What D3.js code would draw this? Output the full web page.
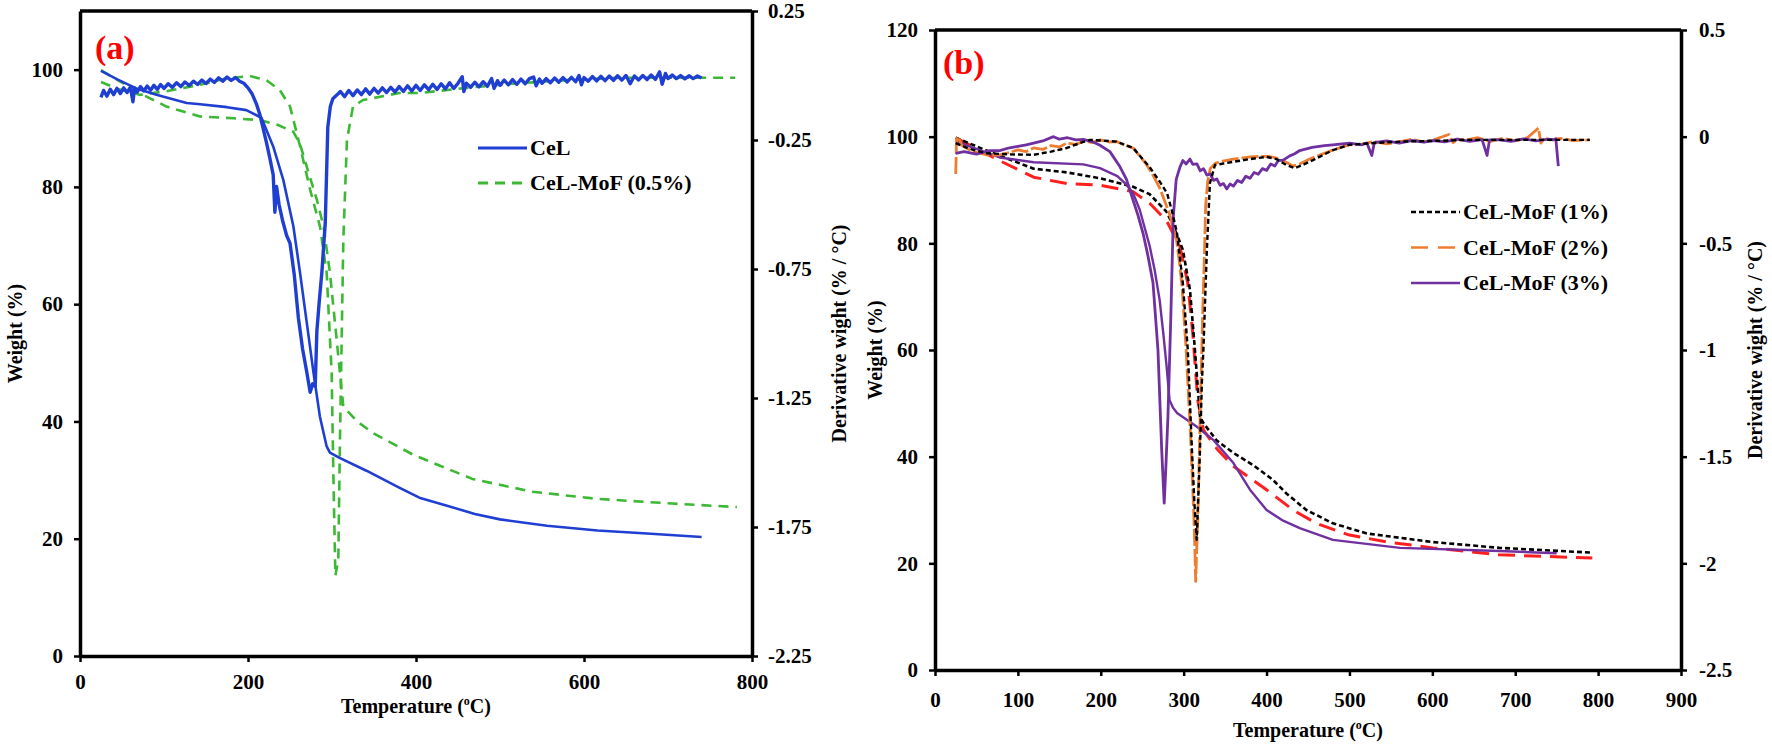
<!DOCTYPE html>
<html><head><meta charset="utf-8">
<script src="https://cdn.jsdelivr.net/npm/d3@7"></script>
<style>
body{margin:0;background:#fff}
text{font-family:"Liberation Serif","Times New Roman",serif;font-weight:bold;fill:#000}
</style>
</head><body>
<svg id="c" width="1772" height="745"></svg>
<script>
// ---------------- DATA ----------------
// Panel (a): TG curves [temperature °C, weight %]
const celTG = [[25,99.8],[45,98.3],[67,96.8],[91,95.7],[127,94.3],[143,94.1],[175,93.6],[198,93.1],[216,91.8],[230,86.9],[242,81.2],[254,73.3],[262,65.3],[270,56.8],[278,48.3],[285.5,40.9],[293.5,35.8],[297.5,34.7],[309,33.8],[341,31.6],[380,28.7],[404,27.0],[438,25.6],[470,24.2],[500,23.3],[556,22.2],[616,21.4],[675,20.9],[740,20.3]];
const mof05TG = [[25,99.9],[71,96.0],[103,93.7],[143,92.0],[183,91.7],[214,91.4],[235,90.6],[254,89.4],[262,87.3],[270,83.4],[282,77.8],[290,73.2],[297.6,65.3],[305.6,53.9],[309.5,48.2],[313.5,42.5],[330,40.0],[349,38.0],[397,34.3],[467,30.2],[539,28.0],[616,26.8],[705,26.0],[782,25.4]];
// Panel (a): DTG curves [temperature °C, derivative %/°C]
const celDTG = [[25,-0.085],[28,-0.058],[32,-0.080],[36,-0.053],[40,-0.074],[44,-0.050],[48,-0.070],[52,-0.048],[56,-0.066],[60,-0.045],[63,-0.102],[65,-0.048],[68,-0.064],[72,-0.043],[76,-0.060],[80,-0.041],[84,-0.057],[88,-0.038],[92,-0.054],[96,-0.035],[100,-0.050],[105,-0.032],[110,-0.046],[115,-0.028],[120,-0.043],[125,-0.025],[130,-0.039],[135,-0.022],[140,-0.035],[145,-0.018],[150,-0.031],[155,-0.014],[160,-0.027],[165,-0.009],[170,-0.022],[175,-0.006],[180,-0.019],[185,-0.008],[190,-0.022],[195,-0.030],[200,-0.048],[205,-0.072],[210,-0.110],[214,-0.150],[218,-0.205],[222,-0.260],[226,-0.320],[230,-0.385],[232,-0.530],[234,-0.430],[237,-0.500],[241,-0.560],[246,-0.620],[250,-0.650],[255,-0.770],[260,-0.940],[265,-1.060],[270,-1.150],[274,-1.228],[277,-1.195],[280,-1.205],[282,-0.990],[285,-0.870],[288,-0.760],[292,-0.570],[295,-0.200],[298,-0.120],[301,-0.090],[305,-0.078],[310,-0.062],[315,-0.082],[320,-0.058],[325,-0.078],[330,-0.056],[335,-0.074],[340,-0.052],[345,-0.072],[350,-0.050],[355,-0.068],[360,-0.048],[365,-0.066],[370,-0.046],[375,-0.064],[380,-0.043],[385,-0.062],[390,-0.040],[395,-0.060],[400,-0.038],[405,-0.058],[410,-0.036],[415,-0.055],[420,-0.034],[425,-0.054],[430,-0.032],[435,-0.052],[440,-0.028],[445,-0.050],[450,-0.030],[455,-0.005],[457,-0.062],[460,-0.030],[465,-0.046],[470,-0.026],[475,-0.044],[480,-0.024],[485,-0.042],[490,-0.012],[493,-0.050],[497,-0.020],[500,-0.038],[505,-0.018],[510,-0.036],[515,-0.016],[520,-0.034],[525,-0.014],[530,-0.032],[535,-0.012],[540,-0.006],[543,-0.040],[547,-0.014],[550,-0.030],[555,-0.012],[560,-0.028],[565,-0.010],[570,-0.026],[575,-0.008],[580,-0.025],[585,-0.007],[590,-0.024],[594,0.000],[597,-0.036],[600,-0.008],[605,-0.022],[610,-0.004],[615,-0.021],[620,-0.003],[625,-0.020],[630,-0.002],[635,-0.019],[640,-0.001],[645,-0.018],[650,0.000],[655,-0.032],[660,-0.002],[665,-0.017],[670,0.000],[675,-0.016],[680,0.002],[685,-0.015],[690,0.014],[693,-0.034],[697,0.008],[700,-0.012],[705,0.002],[710,-0.012],[715,0.000],[720,-0.013],[725,-0.001],[730,-0.012],[735,-0.002],[740,-0.010]];
const mof05DTG = [[25,-0.025],[45,-0.052],[71,-0.075],[103,-0.061],[143,-0.036],[175,-0.011],[202,-0.002],[222,-0.018],[238,-0.057],[250,-0.120],[262,-0.275],[274,-0.443],[285.7,-0.586],[293.7,-0.766],[299.6,-1.155],[301.6,-1.541],[304,-1.939],[307.5,-1.875],[309.5,-1.409],[311.5,-1.023],[313.5,-0.636],[317.8,-0.250],[325,-0.120],[337,-0.095],[380,-0.068],[404,-0.068],[460,-0.048],[522,-0.030],[580,-0.018],[641,-0.009],[700,-0.008],[780,-0.009]];

// Panel (b): TG curves [temperature °C, weight %]
const mof1TG = [[25,99.8],[62,97.4],[119,94.0],[159,93.3],[199,92.2],[239,90.6],[259,89.2],[279.5,85.9],[291,82.0],[299,78.8],[307.6,71.3],[313.6,60.0],[319.7,47.5],[323.8,46.3],[340,43.0],[360,40.7],[385,38.3],[408,35.6],[424,33.1],[448,30.0],[480,27.5],[521,25.6],[600,24.0],[681,22.9],[793,22.0]];
const mof2TG = [[25,99.8],[78,95.5],[119,92.4],[159,91.2],[199,90.9],[239,89.7],[259,87.5],[279.5,84.2],[295.5,79.4],[305,72.5],[311,63.1],[317,50.6],[323.8,45.0],[340,41.5],[360,38.2],[380,36.0],[400,33.8],[432,30.0],[460,27.5],[500,25.3],[546,24.0],[601,22.9],[681,21.6],[793,21.0]];
const mof3TG = [[25,99.1],[78,96.1],[119,95.2],[179,94.8],[199,94.1],[220,92.6],[231,91.0],[239,89.4],[247,86.3],[259,79.5],[265,75.0],[271,69.4],[275.5,63.0],[279.5,56.8],[283,50.6],[287,49.2],[292,48.2],[316,45.6],[336,43.1],[360,38.8],[380,33.8],[400,30.0],[420,28.0],[440,26.6],[480,24.4],[561,22.9],[681,22.3],[750,21.9]];
// Panel (b): DTG curves [temperature °C, derivative %/°C]
const mof1DTG = [[25,-0.030],[40,-0.055],[62,-0.078],[90,-0.083],[119,-0.085],[140,-0.070],[159,-0.053],[175,-0.030],[187,-0.015],[200,-0.018],[219,-0.023],[239,-0.053],[259,-0.143],[271,-0.210],[280,-0.265],[286,-0.350],[292,-0.453],[299,-0.685],[305,-1.000],[310,-1.468],[313,-1.720],[315.7,-1.890],[318,-1.650],[319.7,-1.468],[322,-1.150],[323.8,-1.000],[328,-0.530],[331.7,-0.217],[337.8,-0.133],[360,-0.118],[380,-0.105],[400,-0.095],[412,-0.105],[424,-0.133],[434,-0.148],[445,-0.130],[456,-0.110],[480,-0.063],[500,-0.038],[530,-0.030],[561,-0.023],[600,-0.020],[641,-0.015],[700,-0.015],[742,-0.015],[790,-0.015]];
const mof2DTG = [[25,-0.175],[26,-0.010],[28,0.000],[32,-0.040],[38,-0.053],[45,-0.070],[55,-0.078],[65,-0.088],[78,-0.085],[90,-0.074],[100,-0.062],[110,-0.070],[119,-0.053],[130,-0.060],[140,-0.042],[150,-0.048],[159,-0.030],[170,-0.036],[180,-0.020],[190,-0.028],[199,-0.015],[210,-0.025],[219,-0.023],[229,-0.040],[239,-0.053],[247,-0.090],[255,-0.130],[263,-0.180],[271,-0.240],[277,-0.300],[283,-0.363],[287,-0.420],[291.5,-0.488],[295,-0.590],[298,-0.700],[300.5,-0.850],[303,-1.000],[305.5,-1.190],[308,-1.375],[310,-1.560],[312,-1.750],[313.5,-1.930],[314.5,-2.085],[315.5,-1.960],[317,-1.800],[318.5,-1.550],[320,-1.300],[321.5,-1.060],[323,-0.825],[325,-0.560],[326.5,-0.325],[329,-0.210],[332,-0.150],[338,-0.125],[344,-0.118],[360,-0.105],[380,-0.095],[395,-0.092],[404,-0.093],[412,-0.100],[420,-0.113],[426,-0.125],[432,-0.138],[440,-0.128],[452,-0.105],[465,-0.085],[480,-0.063],[490,-0.050],[500,-0.038],[515,-0.035],[530,-0.022],[545,-0.034],[561,-0.023],[575,-0.012],[590,-0.025],[605,-0.010],[620,0.010],[625,-0.028],[630,-0.012],[641,-0.015],[655,-0.005],[670,-0.022],[685,-0.008],[700,-0.020],[715,-0.004],[728,0.040],[731,-0.030],[735,-0.006],[742,-0.015],[755,-0.008],[770,-0.018],[790,-0.015]];
const mof3DTG = [[25,-0.078],[35,-0.070],[50,-0.082],[65,-0.066],[78,-0.065],[90,-0.052],[100,-0.045],[110,-0.038],[119,-0.030],[130,-0.020],[143,0.000],[150,-0.012],[160,-0.005],[170,-0.015],[179,-0.013],[190,-0.024],[199,-0.040],[211,-0.070],[223,-0.140],[231,-0.200],[239,-0.298],[245,-0.370],[251,-0.453],[257,-0.560],[263,-0.685],[269,-1.000],[273.5,-1.468],[276.5,-1.718],[278.5,-1.550],[281,-1.315],[284.5,-0.845],[287.5,-0.375],[291,-0.200],[295.5,-0.143],[299,-0.112],[303,-0.128],[307.6,-0.105],[311,-0.130],[316,-0.128],[320,-0.160],[324,-0.150],[328,-0.180],[332,-0.175],[336,-0.205],[340,-0.198],[344,-0.228],[348,-0.220],[352,-0.245],[356,-0.222],[360,-0.232],[365,-0.205],[370,-0.215],[375,-0.185],[380,-0.195],[385,-0.168],[390,-0.176],[395,-0.150],[400,-0.158],[405,-0.128],[410,-0.138],[414,-0.112],[420,-0.110],[428,-0.090],[434,-0.080],[440,-0.065],[455,-0.050],[470,-0.042],[480,-0.038],[500,-0.030],[515,-0.038],[521,-0.030],[527,-0.088],[530,-0.028],[545,-0.020],[560,-0.030],[575,-0.018],[590,-0.026],[601,-0.018],[615,-0.024],[630,-0.012],[645,-0.022],[660,-0.014],[666,-0.088],[669,-0.015],[681,-0.015],[695,-0.022],[710,-0.010],[725,-0.020],[740,-0.012],[746,-0.015],[749,-0.010],[752,-0.138]];

// Axis ticks and labels
const xTicksA = [0,200,400,600,800];
const yTicksA = [0,20,40,60,80,100];
const rTicksA = [0.25,-0.25,-0.75,-1.25,-1.75,-2.25];
const xTicksB = [0,100,200,300,400,500,600,700,800,900];
const yTicksB = [0,20,40,60,80,100,120];
const rTicksB = [0.5,0,-0.5,-1,-1.5,-2,-2.5];
const legendA = ["CeL","CeL-MoF (0.5%)"];
const legendB = ["CeL-MoF (1%)","CeL-MoF (2%)","CeL-MoF (3%)"];

// ---------------- DRAW ----------------
const svg = d3.select("#c");
const C = {blue:"#1f3fd3", green:"#3db834", black:"#000", red:"#ff1f1f", orange:"#ed7d31", purple:"#7030a0"};

function panel(cfg){
  const x = d3.scaleLinear().domain(cfg.xDomain).range([cfg.left,cfg.right]);
  const yL = d3.scaleLinear().domain(cfg.yLDomain).range([cfg.bottom,cfg.top]);
  const yR = d3.scaleLinear().domain(cfg.yRDomain).range([cfg.bottom,cfg.top]);
  const g = svg.append("g");
  const id = "clip"+cfg.name;
  svg.append("defs").append("clipPath").attr("id",id).append("rect")
    .attr("x",cfg.left).attr("y",cfg.top).attr("width",cfg.right-cfg.left).attr("height",cfg.bottom-cfg.top);
  const plot = g.append("g").attr("clip-path",`url(#${id})`);
  cfg.series.forEach(s=>{
    const y = s.axis==="R"?yR:yL;
    plot.append("path").datum(s.data)
      .attr("fill","none").attr("stroke",s.color).attr("stroke-width",s.width)
      .attr("stroke-dasharray",s.dash||null).attr("stroke-linejoin","round")
      .attr("d",d3.line().x(d=>x(d[0])).y(d=>y(d[1])));
  });
  const style = sel=>{
    sel.select(".domain").attr("stroke","#000").attr("stroke-width",3.5);
    sel.selectAll(".tick line").attr("stroke","#000").attr("stroke-width",2.5);
    sel.selectAll(".tick text").attr("font-size",21).attr("font-family","Liberation Serif").attr("font-weight","bold").attr("fill","#000");
  };
  g.append("line").attr("x1",cfg.left).attr("x2",cfg.right).attr("y1",cfg.top).attr("y2",cfg.top)
    .attr("stroke","#000").attr("stroke-width",3.5);
  g.append("g").attr("transform",`translate(0,${cfg.bottom})`)
    .call(d3.axisBottom(x).tickValues(cfg.xTicks).tickSize(6).tickSizeOuter(0).tickPadding(cfg.xPad).tickFormat(d3.format("d"))).call(style);
  g.append("g").attr("transform",`translate(${cfg.left},0)`)
    .call(d3.axisLeft(yL).tickValues(cfg.yTicks).tickSize(6).tickSizeOuter(0).tickPadding(11).tickFormat(d3.format("d"))).call(style);
  g.append("g").attr("transform",`translate(${cfg.right},0)`)
    .call(d3.axisRight(yR).tickValues(cfg.rTicks).tickSize(6).tickSizeOuter(0).tickPadding(cfg.rPad).tickFormat(d=>String(d))).call(style);
  const xt = g.append("text").attr("x",(cfg.left+cfg.right)/2).attr("y",cfg.xTitleY).attr("text-anchor","middle").attr("font-size",20);
  xt.append("tspan").text("Temperature (");
  xt.append("tspan").attr("font-size",12).attr("dy",-8).text("o");
  xt.append("tspan").attr("dy",8).text("C)");
  g.append("text").attr("transform",`translate(${cfg.yTitleX},${(cfg.top+cfg.bottom)/2}) rotate(-90)`)
    .attr("text-anchor","middle").attr("font-size",20).text("Weight (%)");
  g.append("text").attr("transform",`translate(${cfg.rTitleX},${(cfg.top+cfg.bottom)/2}) rotate(-90)`)
    .attr("text-anchor","middle").attr("font-size",20).text("Derivative wight (% / \u00B0C)");
  g.append("text").attr("x",cfg.labelX).attr("y",cfg.labelY).attr("font-size",34).style("fill","#ff0000").text(cfg.label);
  cfg.legend.forEach((l,i)=>{
    const yy = cfg.legY + i*cfg.legStep;
    g.append("line").attr("x1",cfg.legX).attr("x2",cfg.legX+49).attr("y1",yy).attr("y2",yy)
      .attr("stroke",l.color).attr("stroke-width",l.width).attr("stroke-dasharray",l.dash||null);
    g.append("text").attr("x",cfg.legX+52).attr("y",yy+7).attr("font-size",cfg.legFont).text(l.name);
  });
}

panel({
  name:"A", left:80, right:752, top:11, bottom:656,
  xDomain:[0,800], yLDomain:[0,110], yRDomain:[-2.25,0.25],
  xTicks:xTicksA, yTicks:yTicksA, rTicks:rTicksA, xPad:12, rPad:10,
  xTitleY:713, yTitleX:22, rTitleX:846, label:"(a)", labelX:95, labelY:59,
  legX:478, legY:148, legStep:35, legFont:22,
  legend:[{name:legendA[0],color:C.blue,width:3},{name:legendA[1],color:C.green,width:3,dash:"10,7"}],
  series:[
    {data:mof05TG, axis:"L", color:C.green, width:2.6, dash:"10,7"},
    {data:mof05DTG, axis:"R", color:C.green, width:2.6, dash:"10,7"},
    {data:celTG, axis:"L", color:C.blue, width:2.6},
    {data:celDTG, axis:"R", color:C.blue, width:3.4}
  ]
});

panel({
  name:"B", left:935, right:1681, top:30, bottom:670,
  xDomain:[0,900], yLDomain:[0,120], yRDomain:[-2.5,0.5],
  xTicks:xTicksB, yTicks:yTicksB, rTicks:rTicksB, xPad:16, rPad:12,
  xTitleY:737, yTitleX:882, rTitleX:1762, label:"(b)", labelX:943, labelY:74,
  legX:1411, legY:212, legStep:35.5, legFont:22,
  legend:[{name:legendB[0],color:C.black,width:2.6,dash:"5,3"},{name:legendB[1],color:C.orange,width:2.6,dash:"17,10"},{name:legendB[2],color:C.purple,width:2.6}],
  series:[
    {data:mof2TG, axis:"L", color:C.red, width:3, dash:"17,9"},
    {data:mof1TG, axis:"L", color:C.black, width:2.6, dash:"5,3"},
    {data:mof3TG, axis:"L", color:C.purple, width:2.4},
    {data:mof2DTG, axis:"R", color:C.orange, width:2.8, dash:"17,3"},
    {data:mof3DTG, axis:"R", color:C.purple, width:2.8},
    {data:mof1DTG, axis:"R", color:C.black, width:2.4, dash:"5,3"}
  ]
});
</script>
</body></html>
